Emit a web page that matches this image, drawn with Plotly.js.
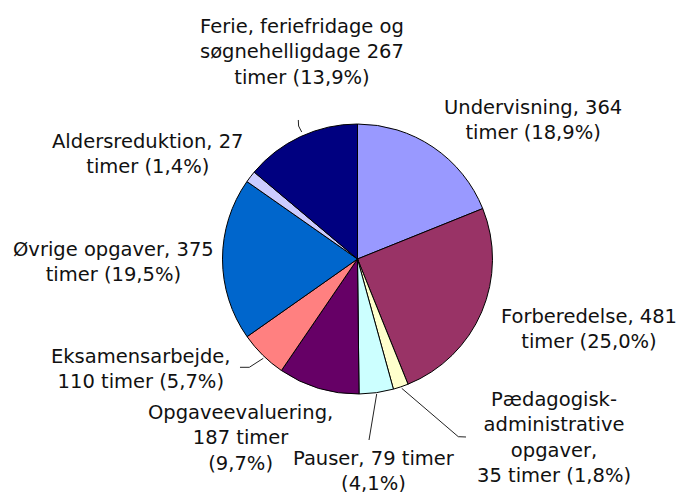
<!DOCTYPE html>
<html>
<head>
<meta charset="utf-8">
<script src="https://cdn.plot.ly/plotly-3.0.1.min.js"></script>
<style>html,body{margin:0;padding:0;background:#fff;}#chart{width:680px;height:492px;}</style>
</head>
<body>
<div id="chart"></div>
<script>
const categories = [
  "Undervisning",
  "Forberedelse",
  "Pædagogisk-administrative opgaver",
  "Pauser",
  "Opgaveevaluering",
  "Eksamensarbejde",
  "Øvrige opgaver",
  "Aldersreduktion",
  "Ferie, feriefridage og søgnehelligdage"
];
const hours = [364, 481, 35, 79, 187, 110, 375, 27, 267];
const percentLabels = ["18,9%", "25,0%", "1,8%", "4,1%", "9,7%", "5,7%", "19,5%", "1,4%", "13,9%"];
const labelTexts = [
  "Undervisning, 364<br>timer (18,9%)",
  "Forberedelse, 481<br>timer (25,0%)",
  "Pædagogisk-<br>administrative<br>opgaver,<br>35 timer (1,8%)",
  "Pauser, 79 timer<br>(4,1%)",
  "Opgaveevaluering,<br>187 timer<br>(9,7%)",
  "Eksamensarbejde,<br>110 timer (5,7%)",
  "Øvrige opgaver, 375<br>timer (19,5%)",
  "Aldersreduktion, 27<br>timer (1,4%)",
  "Ferie, feriefridage og<br>søgnehelligdage 267<br>timer (13,9%)"
];
const colors = ["#9999FF", "#993366", "#FFFFCC", "#CCFFFF", "#660066", "#FF8080", "#0066CC", "#CCCCFF", "#000080"];

const W = 680, H = 492;
const px = x => x / W;
const py = y => 1 - y / H;

// label block centres (pixels)
const labelPos = [
  [533, 120], [589, 329], [554, 437], [374, 471], [240, 438],
  [141, 369], [114, 261.5], [148, 153.5], [302, 52.5]
];

const annotations = labelTexts.map((t, i) => ({
  text: t, xref: 'paper', yref: 'paper',
  x: px(labelPos[i][0]), y: py(labelPos[i][1]),
  xanchor: 'center', yanchor: 'middle', align: 'center',
  showarrow: false,
  font: {family: 'DejaVu Sans, Verdana, sans-serif', size: 19.5, color: '#111'}
}));

function pathFrom(pts) {
  return pts.map((p, i) => (i ? 'L' : 'M') + px(p[0]).toFixed(5) + ',' + py(p[1]).toFixed(5)).join(' ');
}
const leaders = [
  [[298.3, 120], [298.6, 126], [301.7, 132]],
  [[240, 367.3], [249.3, 367.3], [263.3, 358.3]],
  [[376.7, 394], [369, 440]],
  [[401.7, 388.3], [458.3, 436.7], [466, 437]]
];
const shapes = leaders.map(p => ({
  type: 'path', xref: 'paper', yref: 'paper', path: pathFrom(p),
  line: {color: '#222', width: 1}
}));

const cx = 357.5, cy = 259, r = 135;
const trace = {
  type: 'pie',
  labels: categories,
  values: hours,
  customdata: percentLabels,
  sort: false,
  direction: 'clockwise',
  rotation: 0,
  textinfo: 'none',
  hoverinfo: 'label+value',
  marker: {colors: colors, line: {color: '#000', width: 1}},
  domain: {x: [px(cx - r), px(cx + r)], y: [py(cy + r), py(cy - r)]},
  showlegend: false
};

Plotly.newPlot('chart', [trace], {
  width: W, height: H,
  margin: {l: 0, r: 0, t: 0, b: 0},
  paper_bgcolor: '#fff',
  showlegend: false,
  annotations: annotations,
  shapes: shapes
}, {displayModeBar: false, staticPlot: true});
</script>
</body>
</html>
